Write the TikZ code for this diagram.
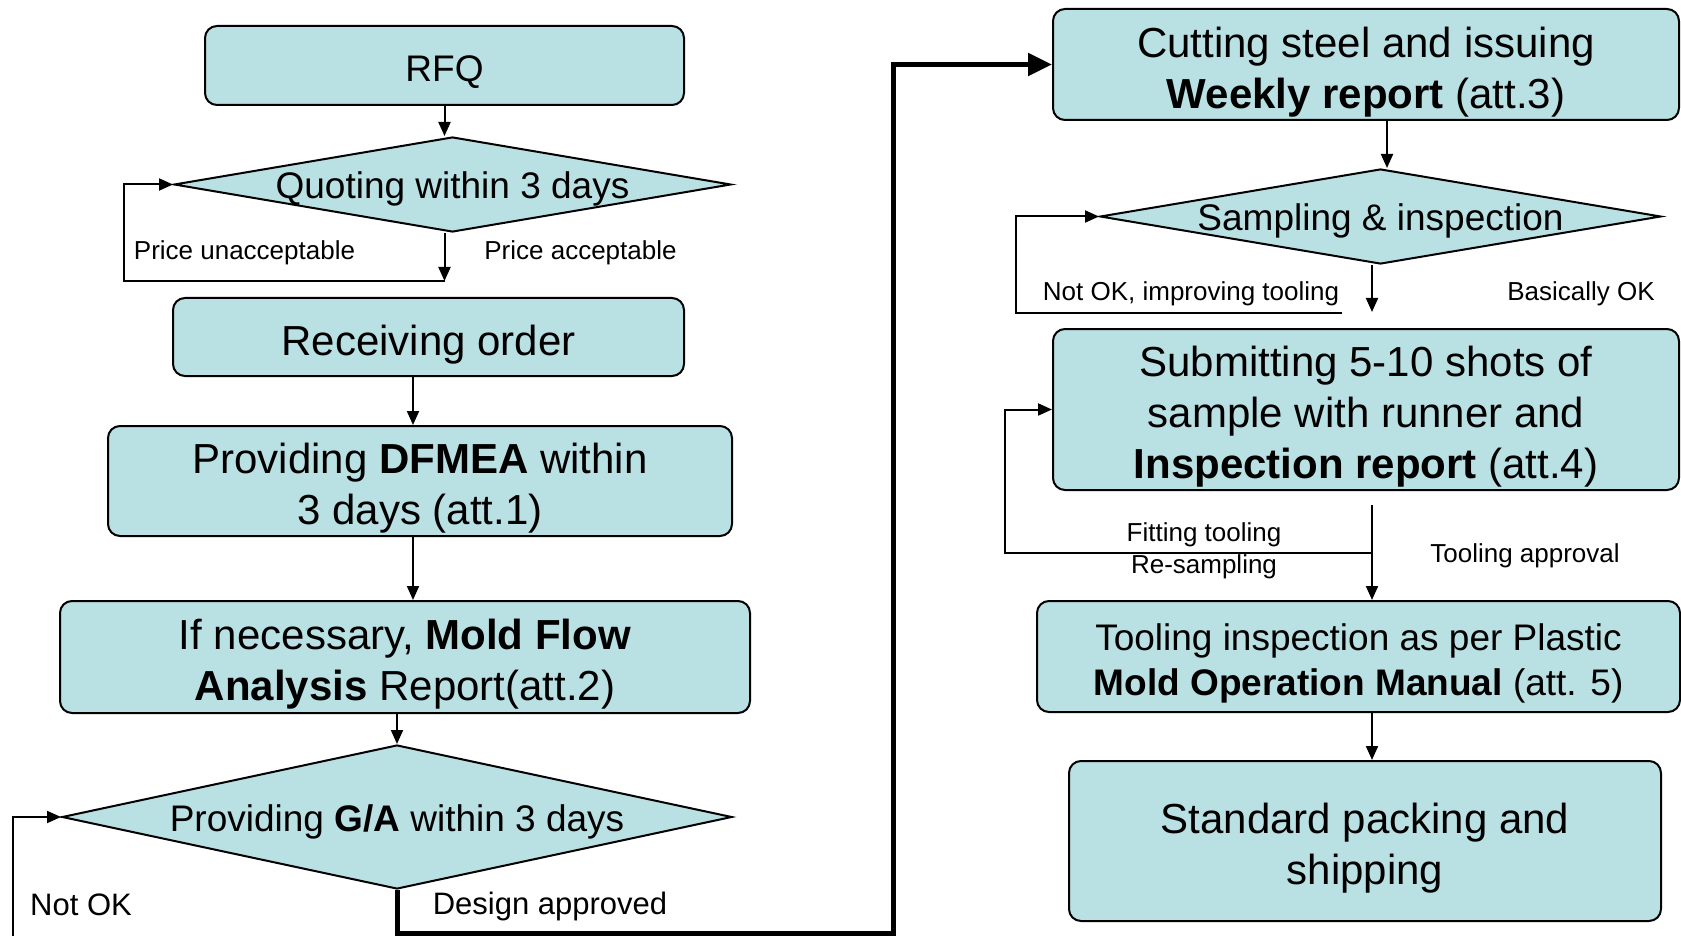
\documentclass[tikz,border=0pt]{standalone}
\usepackage{fontspec}
\setmainfont{Liberation Sans}
\usepackage{tikz}
\usetikzlibrary{shapes.geometric,arrows.meta}
\usepackage{xcolor}
\definecolor{boxfill}{RGB}{185,224,227}
\newcommand{\boxtop}{\rule{0pt}{1.08em}}

\begin{document}
\begin{tikzpicture}[x=0.5pt,y=-0.5pt,
  box/.style={draw, line width=1pt, fill=boxfill, rounded corners=6pt, inner sep=0pt, align=center},
  decision/.style={draw, line width=1pt, fill=boxfill, shape=diamond, inner sep=0pt, text height=14pt, text depth=0pt, font=\fontsize{18.5}{22}\selectfont},
  bigtext/.style={font=\fontsize{21}{25.5}\selectfont},
  midtext/.style={font=\fontsize{18.5}{22.5}\selectfont},
  lbl/.style={font=\fontsize{13}{15}\selectfont},
  link/.style={line width=1pt, -{Triangle[length=7pt,width=6pt]}},
  mainlink/.style={line width=2.5pt, -{Triangle[length=12pt,width=11pt]}}]
\useasboundingbox (0,0) rectangle (1681,936);

% left column - quoting and design
\node[box, midtext, minimum width=239.5pt, minimum height=39.5pt] (rfq) at (444.5,65.5) {\boxtop RFQ};
\node[decision, minimum width=278.5pt, minimum height=47.5pt, aspect=5.86] (quote) at (452.5,184.5) {Quoting within 3 days};
\node[box, bigtext, minimum width=255.5pt, minimum height=39pt] (order) at (428.5,337) {\boxtop Receiving order};
\node[box, bigtext, minimum width=312pt, minimum height=55pt] (dfmea) at (420,481) {\boxtop Providing \textbf{DFMEA} within\\ 3 days (att.1)};
\node[box, bigtext, minimum width=345pt, minimum height=56pt] (mold) at (405,657) {\boxtop If necessary, \textbf{Mold Flow}\\ \textbf{Analysis} Report(att.2)};
\node[decision, minimum width=335pt, minimum height=72pt, aspect=4.65] (ga) at (397,817) {Providing \textbf{G/A} within 3 days};

\node[lbl] (pu) at (244.5,253) {Price unacceptable};
\node[lbl] (pa) at (580.5,253) {Price acceptable};
\node[font=\fontsize{15.5}{18}\selectfont] (nok) at (81,905) {Not OK};
\node[font=\fontsize{15.5}{18}\selectfont] (dap) at (550,906) {Design approved};

\coordinate (qj) at (444.5,281);
\coordinate (qk) at (124,281);
\coordinate (gk) at (13,945);
\coordinate (da1) at (397,933);
\coordinate (da2) at (893,933);

\draw[link] (rfq.south) -- (rfq.south |- quote.north);
\draw[link] (quote.south -| rfq.south) -- (qj);
\draw[link] (qj) -- (qk) |- (quote.west);
\draw[link] ([xshift=-7.75pt]order.south) -- ([xshift=-7.75pt]order.south |- dfmea.north);
\draw[link] ([xshift=-3.5pt]dfmea.south) -- ([xshift=-3.5pt]dfmea.south |- mold.north);
\draw[link] (mold.south -| ga.north) -- (ga.north);
\draw[link] (gk) |- (ga.west);

% right column - tooling and sampling
\node[box, bigtext, minimum width=313pt, minimum height=55.5pt] (cutting) at (1366,64.5) {\boxtop Cutting steel and issuing\\ \textbf{Weekly report} (att.3)};
\node[decision, minimum width=280.5pt, minimum height=47.5pt, aspect=5.9] (sampling) at (1380.5,216.5) {Sampling \& inspection};
\node[box, bigtext, minimum width=313pt, minimum height=80.5pt] (submit) at (1366,409.5) {\boxtop Submitting 5-10 shots of\\ sample with runner and\\ \textbf{Inspection report} (att.4)};
\node[box, midtext, minimum width=321.5pt, minimum height=55.5pt] (toolinsp) at (1358.5,656.5) {\boxtop Tooling inspection as per Plastic\\ \textbf{Mold Operation Manual} (att. 5)};
\node[box, bigtext, minimum width=296pt, minimum height=80pt] (packing) at (1365,841) {\boxtop Standard packing and\\ shipping};

\node[lbl] (nit) at (1191,294) {Not OK, improving tooling};
\node[lbl] (bok) at (1581,294) {Basically OK};
\node[lbl] (fit) at (1204,535) {Fitting tooling};
\node[lbl] (res) at (1204,567) {Re-sampling};
\node[lbl] (tap) at (1525,556) {Tooling approval};

\coordinate (sj) at (1372,312);
\coordinate (sl) at (1342,313);
\coordinate (sk) at (1016,313);
\coordinate (tj) at (1372,505);
\coordinate (tk) at (1005,553);

\draw[mainlink] (ga.south) -- (da1) -- (da2) |- (cutting.west);
\draw[link] ([xshift=10.5pt]cutting.south) -- ([xshift=10.5pt]cutting.south |- sampling.north);
\draw[link] (sampling.south -| sj) -- (sj);
\draw[link] (sl) -- (sk) |- (sampling.west);
\draw[link] (tj) -- (tj |- toolinsp.north);
\draw[link] (tj |- tk) -- (tk) |- (submit.west);
\draw[link] ([xshift=6.75pt]toolinsp.south) -- ([xshift=6.75pt]toolinsp.south |- packing.north);
\end{tikzpicture}
\end{document}
